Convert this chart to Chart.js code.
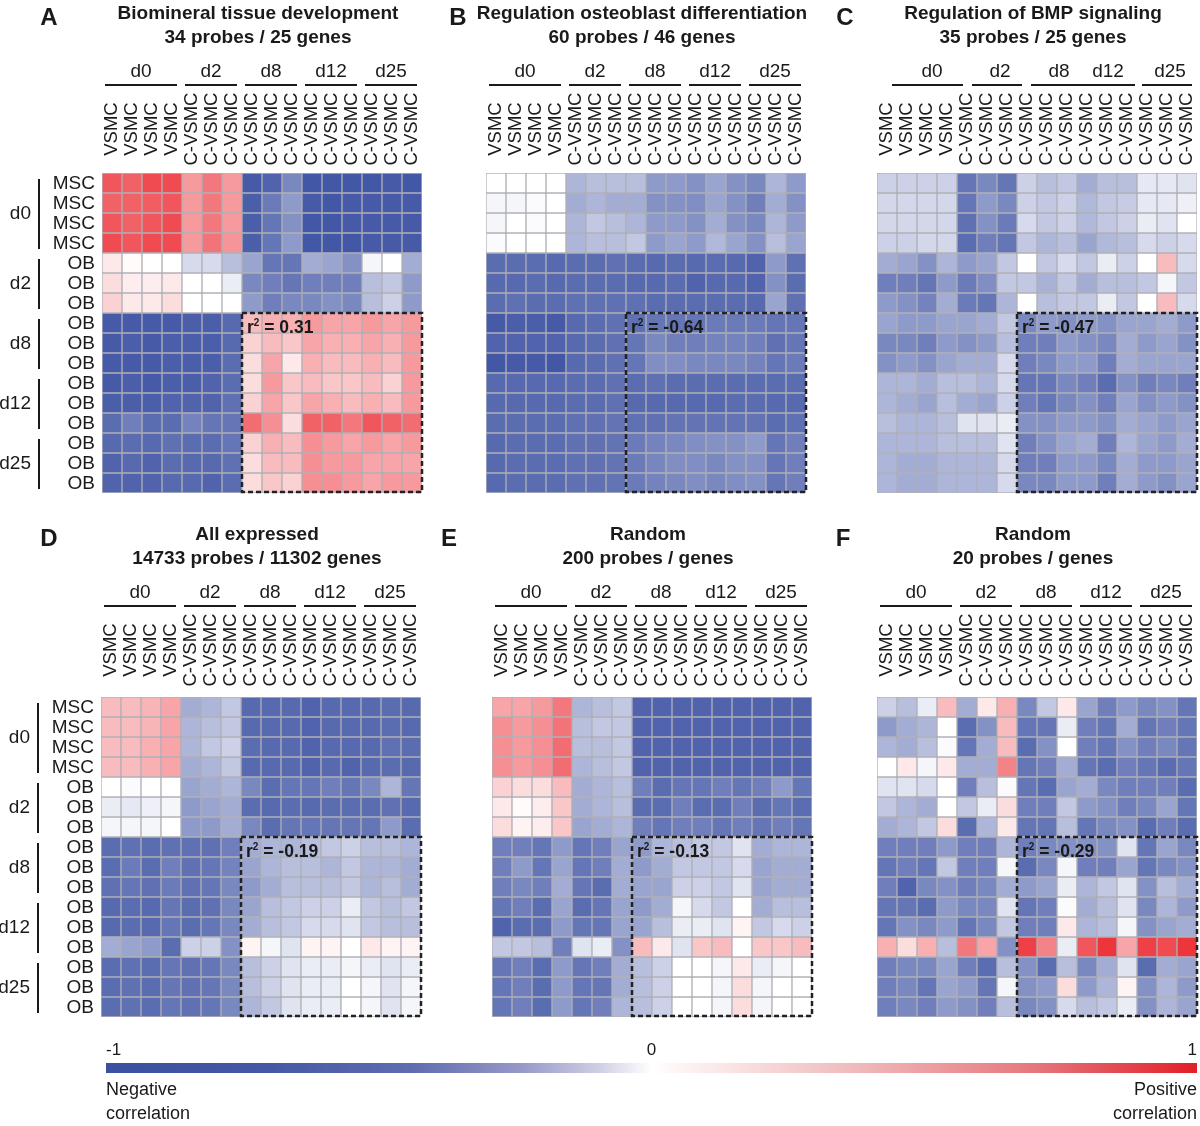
<!DOCTYPE html>
<html>
<head>
<meta charset="utf-8">
<script src="https://cdn.jsdelivr.net/npm/chart.js@4.4.1/dist/chart.umd.min.js"></script>
<style>
  body { margin: 0; width: 1200px; height: 1126px; position: relative; overflow: hidden; background: #fff; }
  canvas { position: absolute; }
</style>
</head>
<body>
<canvas id="panelA" width="430" height="510"></canvas>
<canvas id="panelB" width="430" height="510"></canvas>
<canvas id="panelC" width="430" height="510"></canvas>
<canvas id="panelD" width="430" height="510"></canvas>
<canvas id="panelE" width="430" height="510"></canvas>
<canvas id="panelF" width="430" height="510"></canvas>
<canvas id="colorbar" width="1110" height="96"></canvas>
<script>
// column / row labels shared by all six heatmaps
const colLabels = ["VSMC", "VSMC", "VSMC", "VSMC",
  "C-VSMC", "C-VSMC", "C-VSMC", "C-VSMC", "C-VSMC", "C-VSMC",
  "C-VSMC", "C-VSMC", "C-VSMC", "C-VSMC", "C-VSMC", "C-VSMC"];
const rowLabels = ["MSC", "MSC", "MSC", "MSC",
  "OB", "OB", "OB", "OB", "OB", "OB", "OB", "OB", "OB", "OB", "OB", "OB"];
const groupLabels = ["d0", "d2", "d8", "d12", "d25"];
const groupSizes = [4, 3, 3, 3, 3];

const panelLetters = ["A", "B", "C", "D", "E", "F"];
const panelTitles = ["Biomineral tissue development", "Regulation osteoblast differentiation",
  "Regulation of BMP signaling", "All expressed", "Random", "Random"];
const panelSubtitles = ["34 probes / 25 genes", "60 probes / 46 genes", "35 probes / 25 genes",
  "14733 probes / 11302 genes", "200 probes / genes", "20 probes / genes"];
const rSquared = ["0.31", "-0.64", "-0.47", "-0.19", "-0.13", "-0.29"];

// correlation matrices, rows top to bottom, columns left to right
const matA = [
  [0.75, 0.7, 0.8, 0.8, 0.45, 0.6, 0.45, -0.9, -0.85, -0.65, -0.92, -0.92, -0.92, -0.92, -0.9, -0.92],
  [0.7, 0.7, 0.72, 0.75, 0.45, 0.6, 0.45, -0.88, -0.72, -0.55, -0.9, -0.92, -0.9, -0.9, -0.9, -0.9],
  [0.75, 0.7, 0.75, 0.8, 0.45, 0.6, 0.45, -0.88, -0.75, -0.6, -0.92, -0.92, -0.9, -0.9, -0.9, -0.9],
  [0.8, 0.75, 0.8, 0.8, 0.45, 0.62, 0.47, -0.88, -0.75, -0.55, -0.92, -0.92, -0.92, -0.9, -0.9, -0.9],
  [0.1, 0.02, 0, 0, -0.2, -0.2, -0.35, -0.5, -0.75, -0.75, -0.45, -0.5, -0.6, -0.05, 0, -0.45],
  [0.15, 0.08, 0.08, 0.1, 0, 0, -0.1, -0.65, -0.7, -0.75, -0.7, -0.7, -0.7, -0.35, -0.3, -0.55],
  [0.2, 0.1, 0.1, 0.15, 0, 0, 0, -0.55, -0.7, -0.65, -0.65, -0.6, -0.65, -0.35, -0.25, -0.55],
  [-0.9, -0.9, -0.9, -0.9, -0.88, -0.88, -0.82, 0.3, 0.35, 0.35, 0.45, 0.4, 0.4, 0.45, 0.4, 0.45],
  [-0.9, -0.88, -0.9, -0.88, -0.88, -0.88, -0.82, 0.2, 0.3, 0.25, 0.4, 0.35, 0.35, 0.4, 0.35, 0.45],
  [-0.9, -0.9, -0.9, -0.88, -0.88, -0.88, -0.8, 0.15, 0.4, 0.1, 0.35, 0.3, 0.3, 0.35, 0.3, 0.45],
  [-0.9, -0.88, -0.9, -0.88, -0.88, -0.85, -0.8, 0.15, 0.45, 0.25, 0.3, 0.25, 0.25, 0.3, 0.2, 0.45],
  [-0.88, -0.88, -0.88, -0.85, -0.85, -0.85, -0.78, 0.2, 0.4, 0.25, 0.4, 0.35, 0.3, 0.35, 0.3, 0.45],
  [-0.8, -0.7, -0.8, -0.8, -0.68, -0.75, -0.75, 0.65, 0.5, 0.15, 0.7, 0.7, 0.6, 0.75, 0.7, 0.65],
  [-0.82, -0.8, -0.82, -0.78, -0.8, -0.8, -0.75, 0.2, 0.35, 0.3, 0.5, 0.45, 0.4, 0.45, 0.4, 0.45],
  [-0.85, -0.82, -0.85, -0.8, -0.82, -0.82, -0.78, 0.15, 0.3, 0.3, 0.5, 0.45, 0.45, 0.4, 0.4, 0.4],
  [-0.85, -0.85, -0.85, -0.82, -0.82, -0.85, -0.8, 0.15, 0.25, 0.2, 0.5, 0.5, 0.45, 0.4, 0.45, 0.45],
];

const matB = [
  [0, 0, 0, 0, -0.4, -0.35, -0.35, -0.35, -0.55, -0.55, -0.6, -0.5, -0.6, -0.65, -0.4, -0.55],
  [-0.05, -0.05, -0.02, 0, -0.45, -0.4, -0.45, -0.45, -0.6, -0.6, -0.62, -0.5, -0.6, -0.7, -0.45, -0.6],
  [-0.05, 0, -0.02, 0, -0.4, -0.3, -0.35, -0.4, -0.55, -0.55, -0.6, -0.45, -0.6, -0.65, -0.4, -0.55],
  [-0.02, 0, 0, 0, -0.4, -0.35, -0.35, -0.3, -0.55, -0.5, -0.55, -0.38, -0.5, -0.6, -0.35, -0.5],
  [-0.8, -0.8, -0.8, -0.82, -0.8, -0.8, -0.78, -0.8, -0.82, -0.8, -0.82, -0.8, -0.82, -0.85, -0.55, -0.78],
  [-0.82, -0.82, -0.8, -0.82, -0.8, -0.8, -0.8, -0.82, -0.82, -0.8, -0.85, -0.82, -0.82, -0.85, -0.6, -0.8],
  [-0.8, -0.78, -0.8, -0.8, -0.78, -0.78, -0.78, -0.78, -0.8, -0.8, -0.8, -0.8, -0.8, -0.82, -0.5, -0.78],
  [-0.9, -0.88, -0.88, -0.9, -0.82, -0.8, -0.78, -0.78, -0.75, -0.75, -0.75, -0.72, -0.72, -0.72, -0.75, -0.75],
  [-0.85, -0.85, -0.85, -0.85, -0.82, -0.8, -0.78, -0.75, -0.65, -0.7, -0.7, -0.68, -0.68, -0.7, -0.78, -0.75],
  [-0.92, -0.9, -0.9, -0.92, -0.82, -0.8, -0.78, -0.75, -0.62, -0.62, -0.65, -0.65, -0.65, -0.68, -0.75, -0.72],
  [-0.82, -0.82, -0.82, -0.82, -0.8, -0.8, -0.78, -0.8, -0.78, -0.8, -0.8, -0.8, -0.8, -0.8, -0.8, -0.8],
  [-0.82, -0.82, -0.82, -0.82, -0.8, -0.8, -0.78, -0.82, -0.82, -0.82, -0.82, -0.82, -0.8, -0.8, -0.82, -0.82],
  [-0.8, -0.8, -0.8, -0.8, -0.78, -0.78, -0.76, -0.78, -0.78, -0.76, -0.76, -0.76, -0.76, -0.76, -0.8, -0.78],
  [-0.82, -0.8, -0.8, -0.8, -0.78, -0.78, -0.76, -0.72, -0.68, -0.65, -0.62, -0.6, -0.6, -0.55, -0.75, -0.7],
  [-0.82, -0.8, -0.8, -0.8, -0.78, -0.78, -0.76, -0.72, -0.66, -0.62, -0.62, -0.65, -0.6, -0.6, -0.75, -0.7],
  [-0.82, -0.8, -0.8, -0.8, -0.78, -0.78, -0.76, -0.72, -0.68, -0.65, -0.62, -0.65, -0.62, -0.6, -0.75, -0.7],
];

const matC = [
  [-0.25, -0.25, -0.25, -0.25, -0.75, -0.65, -0.75, -0.25, -0.35, -0.3, -0.45, -0.35, -0.35, -0.12, -0.12, -0.15],
  [-0.22, -0.22, -0.22, -0.22, -0.75, -0.55, -0.65, -0.25, -0.3, -0.25, -0.38, -0.3, -0.28, -0.12, -0.12, -0.08],
  [-0.22, -0.22, -0.22, -0.22, -0.78, -0.6, -0.72, -0.2, -0.3, -0.25, -0.38, -0.3, -0.25, -0.1, -0.15, 0],
  [-0.25, -0.25, -0.22, -0.22, -0.8, -0.7, -0.75, -0.3, -0.4, -0.35, -0.5, -0.38, -0.35, -0.2, -0.25, -0.2],
  [-0.45, -0.5, -0.6, -0.4, -0.55, -0.5, -0.3, 0, -0.3, -0.2, -0.3, -0.1, -0.25, 0, 0.3, -0.2],
  [-0.7, -0.7, -0.75, -0.55, -0.72, -0.62, -0.3, -0.3, -0.42, -0.3, -0.45, -0.35, -0.35, -0.3, -0.05, -0.3],
  [-0.55, -0.6, -0.68, -0.45, -0.72, -0.75, -0.4, 0, -0.35, -0.3, -0.3, -0.1, -0.3, 0, 0.3, -0.2],
  [-0.5, -0.55, -0.55, -0.5, -0.5, -0.45, -0.3, -0.65, -0.55, -0.6, -0.55, -0.6, -0.5, -0.5, -0.45, -0.55],
  [-0.65, -0.65, -0.7, -0.55, -0.6, -0.55, -0.35, -0.7, -0.7, -0.55, -0.6, -0.65, -0.45, -0.55, -0.5, -0.6],
  [-0.6, -0.55, -0.6, -0.5, -0.45, -0.45, -0.2, -0.7, -0.65, -0.55, -0.55, -0.7, -0.45, -0.5, -0.5, -0.5],
  [-0.4, -0.4, -0.45, -0.35, -0.35, -0.4, -0.2, -0.75, -0.75, -0.65, -0.7, -0.8, -0.6, -0.7, -0.65, -0.7],
  [-0.4, -0.45, -0.5, -0.35, -0.45, -0.5, -0.25, -0.7, -0.75, -0.65, -0.6, -0.7, -0.5, -0.6, -0.55, -0.6],
  [-0.35, -0.4, -0.4, -0.35, -0.15, -0.15, -0.1, -0.6, -0.6, -0.55, -0.55, -0.6, -0.45, -0.5, -0.55, -0.5],
  [-0.4, -0.4, -0.4, -0.35, -0.35, -0.35, -0.15, -0.7, -0.6, -0.5, -0.45, -0.7, -0.4, -0.5, -0.55, -0.45],
  [-0.4, -0.45, -0.45, -0.4, -0.4, -0.4, -0.2, -0.7, -0.7, -0.55, -0.55, -0.65, -0.45, -0.55, -0.55, -0.5],
  [-0.4, -0.45, -0.45, -0.4, -0.4, -0.4, -0.2, -0.65, -0.65, -0.55, -0.55, -0.7, -0.45, -0.55, -0.6, -0.5],
];

const matD = [
  [0.3, 0.3, 0.33, 0.4, -0.45, -0.4, -0.3, -0.82, -0.82, -0.82, -0.85, -0.82, -0.82, -0.82, -0.8, -0.82],
  [0.3, 0.3, 0.33, 0.4, -0.4, -0.35, -0.3, -0.82, -0.82, -0.82, -0.85, -0.82, -0.82, -0.82, -0.8, -0.82],
  [0.3, 0.3, 0.35, 0.4, -0.4, -0.3, -0.25, -0.8, -0.82, -0.82, -0.85, -0.82, -0.82, -0.82, -0.78, -0.8],
  [0.3, 0.3, 0.35, 0.4, -0.45, -0.4, -0.3, -0.82, -0.82, -0.82, -0.85, -0.82, -0.85, -0.82, -0.8, -0.82],
  [0, -0.02, 0, 0, -0.5, -0.45, -0.4, -0.65, -0.8, -0.75, -0.75, -0.7, -0.75, -0.65, -0.4, -0.75],
  [-0.1, -0.12, -0.08, -0.05, -0.55, -0.5, -0.45, -0.8, -0.82, -0.8, -0.82, -0.8, -0.8, -0.8, -0.78, -0.82],
  [-0.05, -0.05, -0.05, 0, -0.55, -0.55, -0.45, -0.65, -0.8, -0.75, -0.75, -0.75, -0.75, -0.75, -0.55, -0.8],
  [-0.8, -0.78, -0.8, -0.78, -0.78, -0.78, -0.7, -0.45, -0.4, -0.4, -0.35, -0.3, -0.25, -0.35, -0.35, -0.4],
  [-0.8, -0.72, -0.8, -0.7, -0.78, -0.75, -0.68, -0.5, -0.4, -0.35, -0.35, -0.4, -0.3, -0.4, -0.4, -0.45],
  [-0.78, -0.75, -0.78, -0.72, -0.78, -0.75, -0.65, -0.55, -0.45, -0.35, -0.35, -0.35, -0.3, -0.4, -0.35, -0.45],
  [-0.82, -0.8, -0.82, -0.75, -0.8, -0.78, -0.65, -0.5, -0.35, -0.3, -0.25, -0.25, -0.1, -0.3, -0.35, -0.3],
  [-0.82, -0.8, -0.82, -0.75, -0.8, -0.75, -0.65, -0.45, -0.35, -0.3, -0.2, -0.2, -0.15, -0.3, -0.35, -0.35],
  [-0.45, -0.5, -0.55, -0.8, -0.25, -0.25, -0.6, 0.05, -0.05, -0.15, 0.05, 0.05, 0, 0.1, 0.05, 0.05],
  [-0.8, -0.78, -0.8, -0.75, -0.78, -0.75, -0.65, -0.35, -0.25, -0.15, -0.1, -0.1, -0.05, -0.1, -0.15, -0.1],
  [-0.8, -0.78, -0.8, -0.75, -0.78, -0.75, -0.65, -0.35, -0.25, -0.15, -0.1, -0.1, 0, -0.05, -0.15, -0.05],
  [-0.8, -0.78, -0.8, -0.75, -0.78, -0.75, -0.65, -0.4, -0.3, -0.15, -0.1, -0.1, 0, -0.05, -0.15, -0.05],
];

const matE = [
  [0.4, 0.4, 0.45, 0.6, -0.4, -0.35, -0.3, -0.85, -0.85, -0.85, -0.85, -0.85, -0.85, -0.85, -0.85, -0.85],
  [0.5, 0.45, 0.5, 0.62, -0.35, -0.3, -0.3, -0.85, -0.85, -0.85, -0.85, -0.85, -0.85, -0.85, -0.85, -0.85],
  [0.5, 0.45, 0.5, 0.65, -0.35, -0.35, -0.3, -0.85, -0.85, -0.85, -0.85, -0.85, -0.85, -0.85, -0.85, -0.85],
  [0.5, 0.45, 0.5, 0.65, -0.4, -0.35, -0.3, -0.85, -0.85, -0.85, -0.85, -0.85, -0.85, -0.85, -0.85, -0.85],
  [0.2, 0.15, 0.15, 0.3, -0.45, -0.4, -0.35, -0.7, -0.8, -0.75, -0.75, -0.7, -0.75, -0.7, -0.55, -0.75],
  [0.1, 0.02, 0.08, 0.25, -0.45, -0.4, -0.35, -0.8, -0.8, -0.7, -0.8, -0.8, -0.7, -0.8, -0.75, -0.8],
  [0.15, 0.05, 0.08, 0.25, -0.5, -0.45, -0.4, -0.7, -0.75, -0.7, -0.7, -0.75, -0.7, -0.75, -0.7, -0.75],
  [-0.7, -0.7, -0.75, -0.55, -0.75, -0.7, -0.5, -0.55, -0.4, -0.35, -0.3, -0.3, -0.15, -0.45, -0.4, -0.4],
  [-0.7, -0.55, -0.75, -0.5, -0.75, -0.7, -0.45, -0.55, -0.45, -0.3, -0.3, -0.3, -0.2, -0.5, -0.45, -0.45],
  [-0.7, -0.65, -0.7, -0.45, -0.75, -0.8, -0.45, -0.5, -0.5, -0.25, -0.25, -0.3, -0.15, -0.5, -0.45, -0.45],
  [-0.75, -0.7, -0.8, -0.5, -0.8, -0.75, -0.5, -0.55, -0.45, -0.05, -0.2, -0.3, 0, -0.45, -0.35, -0.35],
  [-0.85, -0.8, -0.8, -0.55, -0.75, -0.75, -0.5, -0.5, -0.35, -0.1, -0.1, -0.15, 0.05, -0.3, -0.2, -0.25],
  [-0.3, -0.3, -0.35, -0.7, -0.15, -0.1, -0.6, 0.3, 0.1, -0.15, 0.25, 0.3, 0, 0.25, 0.25, 0.3],
  [-0.75, -0.7, -0.8, -0.55, -0.75, -0.7, -0.45, -0.35, -0.25, 0, 0, -0.05, 0.1, -0.1, -0.05, 0],
  [-0.75, -0.7, -0.8, -0.55, -0.75, -0.75, -0.45, -0.35, -0.25, 0, 0, -0.05, 0.15, -0.05, 0, 0],
  [-0.75, -0.7, -0.8, -0.55, -0.75, -0.7, -0.4, -0.35, -0.25, 0, 0, -0.05, 0.15, -0.05, 0, 0],
];

const matF = [
  [-0.25, -0.35, -0.1, 0.3, -0.45, 0.1, 0.35, -0.65, -0.3, 0.1, -0.5, -0.7, -0.55, -0.65, -0.6, -0.75],
  [-0.55, -0.45, -0.4, 0, -0.8, -0.6, 0.3, -0.75, -0.75, -0.1, -0.7, -0.75, -0.45, -0.75, -0.7, -0.75],
  [-0.4, -0.45, -0.35, -0.02, -0.75, -0.45, 0.3, -0.8, -0.6, 0, -0.7, -0.75, -0.6, -0.7, -0.65, -0.75],
  [0, 0.1, -0.05, 0.1, -0.45, -0.45, 0.55, -0.75, -0.7, -0.45, -0.75, -0.8, -0.7, -0.75, -0.8, -0.75],
  [-0.15, -0.15, -0.2, 0, -0.7, -0.35, -0.02, -0.75, -0.8, -0.5, -0.45, -0.65, -0.7, -0.7, -0.7, -0.8],
  [-0.3, -0.4, -0.45, 0, -0.3, -0.1, 0.15, -0.7, -0.7, -0.3, -0.55, -0.6, -0.7, -0.65, -0.5, -0.75],
  [-0.45, -0.4, -0.3, 0.15, -0.8, -0.4, 0.1, -0.75, -0.75, -0.35, -0.75, -0.65, -0.6, -0.8, -0.7, -0.8],
  [-0.7, -0.7, -0.7, -0.55, -0.7, -0.7, -0.4, -0.7, -0.65, -0.6, -0.6, -0.6, -0.15, -0.75, -0.5, -0.65],
  [-0.75, -0.7, -0.75, -0.3, -0.7, -0.7, -0.05, -0.8, -0.65, -0.05, -0.7, -0.7, -0.5, -0.75, -0.65, -0.6],
  [-0.7, -0.85, -0.65, -0.6, -0.7, -0.65, -0.45, -0.55, -0.5, -0.1, -0.4, -0.3, -0.15, -0.6, -0.35, -0.45],
  [-0.75, -0.75, -0.8, -0.55, -0.65, -0.65, -0.15, -0.75, -0.7, -0.02, -0.45, -0.35, -0.15, -0.65, -0.4, -0.55],
  [-0.75, -0.6, -0.65, -0.55, -0.75, -0.65, -0.3, -0.7, -0.7, 0.1, -0.4, -0.35, -0.05, -0.6, -0.5, -0.45],
  [0.35, 0.15, 0.35, -0.35, 0.6, 0.4, -0.6, 0.85, 0.55, -0.1, 0.75, 0.9, 0.4, 0.85, 0.8, 0.9],
  [-0.7, -0.65, -0.65, -0.5, -0.7, -0.8, -0.35, -0.6, -0.8, -0.35, -0.65, -0.45, -0.15, -0.8, -0.45, -0.5],
  [-0.7, -0.65, -0.75, -0.5, -0.55, -0.75, -0.05, -0.6, -0.55, 0.15, -0.55, -0.4, 0.05, -0.6, -0.4, -0.55],
  [-0.7, -0.65, -0.7, -0.55, -0.6, -0.7, -0.35, -0.65, -0.6, -0.2, -0.35, -0.3, -0.1, -0.6, -0.4, -0.5],
];

const matrices = [matA, matB, matC, matD, matE, matF];

// colour bar
const barTicks = [-1, 0, 1];
const barStopPos = [0, 0.15, 0.28, 0.38, 0.45, 0.5, 0.55, 0.7, 0.85, 1];
const barStopColors = ["#3a50a0", "#4658a5", "#5f6caf", "#9698c8", "#cdcde4", "#ffffff",
  "#fbecec", "#f0b4b6", "#e4787d", "#e31e26"];

const NEG_RGB = [50, 72, 158];
const POS_RGB = [235, 30, 38];
const TEXT = "#1a1a1a";
const FONT = "'Liberation Sans', Arial, sans-serif";

Chart.defaults.font.family = FONT;

// page position of each heatmap (top-left of the grid)
const layouts = [
  { left: 102, top: 173, letterDx: -53, headDy: 0, rowAxis: true },
  { left: 486, top: 173, letterDx: -28, headDy: 0 },
  { left: 877, top: 173, letterDx: -32, headDy: 0,
    bars: [[0, 0, 15, 6], [1, 1, 15, 5], [2, 3, 14, -2], [4, 4, 5, -5]],
    labelShift: [15, 13, 12, 1, 3] },
  { left: 101, top: 697, letterDx: -52, headDy: -3, rowAxis: true },
  { left: 492, top: 697, letterDx: -43, headDy: -3 },
  { left: 877, top: 697, letterDx: -34, headDy: -3 },
];

function corrColor(v) {
  const end = v < 0 ? NEG_RGB : POS_RGB;
  const t = Math.min(1, Math.abs(v));
  const c = end.map((e) => Math.round(255 + (e - 255) * t));
  return `rgb(${c[0]},${c[1]},${c[2]})`;
}

function groupStarts() {
  let s = 0;
  return groupSizes.map((n) => { const st = s; s += n; return st; });
}

const panelLabels = {
  id: "panelLabels",
  afterDraw(chart, args, o) {
    const { ctx, chartArea: area, scales: { x, y } } = chart;
    const half = (x.getPixelForValue(1) - x.getPixelForValue(0)) / 2;
    const colL = (i) => x.getPixelForValue(i) - half;
    const colR = (i) => x.getPixelForValue(i) + half;
    const T = area.top + o.headDy;
    const starts = groupStarts();
    ctx.save();
    ctx.fillStyle = TEXT;
    ctx.strokeStyle = TEXT;

    ctx.font = `bold 24px ${FONT}`;
    ctx.textAlign = "center";
    ctx.textBaseline = "middle";
    ctx.fillText(o.letter, area.left + o.letterDx, T - 155);

    ctx.font = `bold 19px ${FONT}`;
    const cx = (area.left + area.right) / 2 - 4;
    ctx.fillText(o.title, cx, T - 159);
    ctx.fillText(o.subtitle, cx, T - 135);

    // column groups
    ctx.font = `19px ${FONT}`;
    ctx.lineWidth = 2;
    groupLabels.forEach((g, gi) => {
      const a = starts[gi], b = a + groupSizes[gi] - 1;
      const shift = o.labelShift ? o.labelShift[gi] : -1;
      ctx.fillText(g, (colL(a) + colR(b)) / 2 + shift, T - 101);
    });
    const bars = o.bars || groupLabels.map((g, gi) => [gi, gi, 3, -5]);
    bars.forEach(([g1, g2, d1, d2]) => {
      const x1 = colL(starts[g1]) + d1;
      const x2 = colR(starts[g2] + groupSizes[g2] - 1) + d2;
      ctx.beginPath();
      ctx.moveTo(x1, T - 88);
      ctx.lineTo(x2, T - 88);
      ctx.stroke();
    });

    // rotated column labels
    ctx.font = `18.5px ${FONT}`;
    colLabels.forEach((lab, i) => {
      ctx.save();
      ctx.translate(x.getPixelForValue(i) - 1, T - 44);
      ctx.rotate(-Math.PI / 2);
      ctx.fillText(lab, 0, 1);
      ctx.restore();
    });

    // row labels and row groups (left column panels only)
    if (o.rowAxis) {
      ctx.font = `19px ${FONT}`;
      ctx.textAlign = "right";
      rowLabels.forEach((lab, r) => {
        ctx.fillText(lab, area.left - 7, y.getPixelForValue(r + 0.5) + 1);
      });
      groupLabels.forEach((g, gi) => {
        const top = y.getPixelForValue(starts[gi]);
        const bot = y.getPixelForValue(starts[gi] + groupSizes[gi]);
        ctx.fillText(g, area.left - 71, (top + bot) / 2 + 1);
        ctx.beginPath();
        ctx.moveTo(area.left - 63, top + 6);
        ctx.lineTo(area.left - 63, bot - 4);
        ctx.stroke();
      });
    }

    // dashed box around the OB x C-VSMC block
    const bx1 = colL(7), bx2 = colR(15);
    const by1 = y.getPixelForValue(7), by2 = y.getPixelForValue(16);
    ctx.setLineDash([5, 3]);
    ctx.lineWidth = 2.5;
    ctx.strokeStyle = "#222";
    ctx.strokeRect(bx1, by1, bx2 - bx1, by2 - by1 - 1);
    ctx.setLineDash([]);

    ctx.textAlign = "left";
    ctx.textBaseline = "alphabetic";
    let tx = bx1 + 5;
    const base = by1 + 20;
    ctx.font = `bold 17.5px ${FONT}`;
    ctx.fillText("r", tx, base);
    tx += ctx.measureText("r").width;
    ctx.font = `bold 10px ${FONT}`;
    ctx.fillText("2", tx, base - 7);
    tx += ctx.measureText("2").width;
    ctx.font = `bold 17.5px ${FONT}`;
    ctx.fillText(" = " + o.rsq, tx, base);
    ctx.restore();
  },
};

matrices.forEach((mat, p) => {
  const lay = layouts[p];
  const canvas = document.getElementById("panel" + panelLetters[p]);
  canvas.style.left = lay.left - 102 + "px";
  canvas.style.top = lay.top - 173 + "px";

  new Chart(canvas, {
    type: "bar",
    data: {
      labels: colLabels,
      datasets: mat.map((row, r) => ({
        label: rowLabels[r],
        data: row.map(() => [r, r + 1]),
        backgroundColor: row.map(corrColor),
        borderColor: "rgba(128,128,140,0.6)",
        borderWidth: 1,
        borderSkipped: false,
        barPercentage: 1,
        categoryPercentage: 1,
        grouped: false,
      })),
    },
    options: {
      responsive: false,
      animation: false,
      layout: { padding: { left: 102, top: 173, right: 8, bottom: 17 } },
      scales: {
        x: { display: false },
        y: { display: false, min: 0, max: 16, reverse: true },
      },
      plugins: {
        legend: { display: false },
        tooltip: { enabled: false },
        panelLabels: {
          letter: panelLetters[p],
          title: panelTitles[p],
          subtitle: panelSubtitles[p],
          rsq: rSquared[p],
          letterDx: lay.letterDx,
          headDy: lay.headDy,
          rowAxis: !!lay.rowAxis,
          bars: lay.bars || null,
          labelShift: lay.labelShift || null,
        },
      },
    },
    plugins: [panelLabels],
  });
});

// colour bar: gradient over a -1..1 axis
const gradientFill = {
  id: "gradientFill",
  beforeDatasetsDraw(chart) {
    const { ctx, chartArea: a } = chart;
    const grad = ctx.createLinearGradient(a.left, 0, a.right, 0);
    barStopPos.forEach((s, i) => grad.addColorStop(s, barStopColors[i]));
    ctx.save();
    ctx.fillStyle = grad;
    ctx.fillRect(a.left, a.top, a.right - a.left, a.bottom - a.top);
    ctx.fillStyle = TEXT;
    ctx.font = `18px ${FONT}`;
    ctx.textBaseline = "middle";
    ctx.textAlign = "left";
    ctx.fillText("Negative", a.left, a.bottom + 17);
    ctx.fillText("correlation", a.left, a.bottom + 41);
    ctx.textAlign = "right";
    ctx.fillText("Positive", a.right, a.bottom + 17);
    ctx.fillText("correlation", a.right, a.bottom + 41);
    ctx.restore();
  },
};

const cb = document.getElementById("colorbar");
cb.style.left = "90px";
cb.style.top = "1030px";
new Chart(cb, {
  type: "scatter",
  data: { datasets: [{ data: [] }] },
  options: {
    responsive: false,
    animation: false,
    layout: { padding: { left: 16, right: 3, top: 0, bottom: 53 } },
    scales: {
      x: {
        type: "linear",
        position: "top",
        min: -1,
        max: 1,
        afterBuildTicks: (s) => { s.ticks = barTicks.map((v) => ({ value: v })); },
        afterFit: (s) => { s.height = 33; },
        ticks: { align: "inner", padding: 2, color: TEXT, font: { size: 17 } },
        grid: { display: false, drawTicks: false },
        border: { display: false },
      },
      y: { display: false, min: 0, max: 1 },
    },
    plugins: { legend: { display: false }, tooltip: { enabled: false } },
  },
  plugins: [gradientFill],
});
</script>
</body>
</html>
